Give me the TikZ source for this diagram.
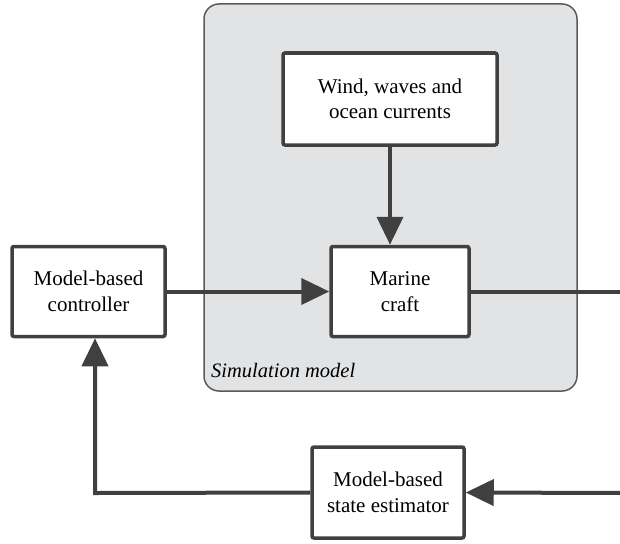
\documentclass[tikz,border=0pt]{standalone}
\usepackage{fontspec}
\setmainfont{Liberation Serif}
\usetikzlibrary{arrows.meta}
\definecolor{linec}{HTML}{404040}
\definecolor{simfill}{HTML}{E2E3E5}
\definecolor{simline}{HTML}{5A5A5A}
\tikzset{
  blockbox/.style={draw=linec, line width=3.5pt, fill=white, rounded corners=2pt,
    align=center, inner sep=0pt, font=\fontsize{21}{25.5}\selectfont},
  simbox/.style={draw=simline, line width=1.5pt, fill=simfill, rounded corners=15pt, inner sep=0pt},
  flow/.style={draw=linec, line width=4pt, -{Triangle[length=28pt,width=26pt]}},
  plainflow/.style={draw=linec, line width=4pt},
}
\begin{document}
\begin{tikzpicture}[x=1pt,y=-1pt]
\useasboundingbox (0,0) rectangle (620,543);
\node[simbox, minimum width=373pt, minimum height=387pt] (sim) at (390.5,197.5) {};
\node[anchor=base west, font=\fontsize{20.5}{24}\selectfont\itshape, inner sep=0pt] (simlabel) at (211,377) {Simulation model};
\node[blockbox, minimum width=214pt, minimum height=92pt] (wind) at (390,99) {Wind, waves and\\ocean currents};
\node[blockbox, minimum width=138pt, minimum height=90pt] (marine) at (400,291.5) {Marine\\craft};
\node[blockbox, minimum width=153pt, minimum height=90pt] (ctrl) at (88.5,291.5) {Model-based\\controller};
\node[blockbox, minimum width=152pt, minimum height=91pt] (est) at (388,492.5) {Model-based\\state estimator};
\coordinate (outR) at (622,291.5);
\coordinate (inR) at (622,493);
\coordinate (corner) at (95,493);
\draw[flow] (ctrl.east) -- (marine.west);
\draw[flow] (wind.south) -- (wind.south |- marine.north);
\draw[plainflow] (marine.east) -- (outR);
\draw[flow] (inR) -- (est.east);
\draw[flow] (est.west) -- (corner) -- (corner |- ctrl.south);
\end{tikzpicture}
\end{document}
